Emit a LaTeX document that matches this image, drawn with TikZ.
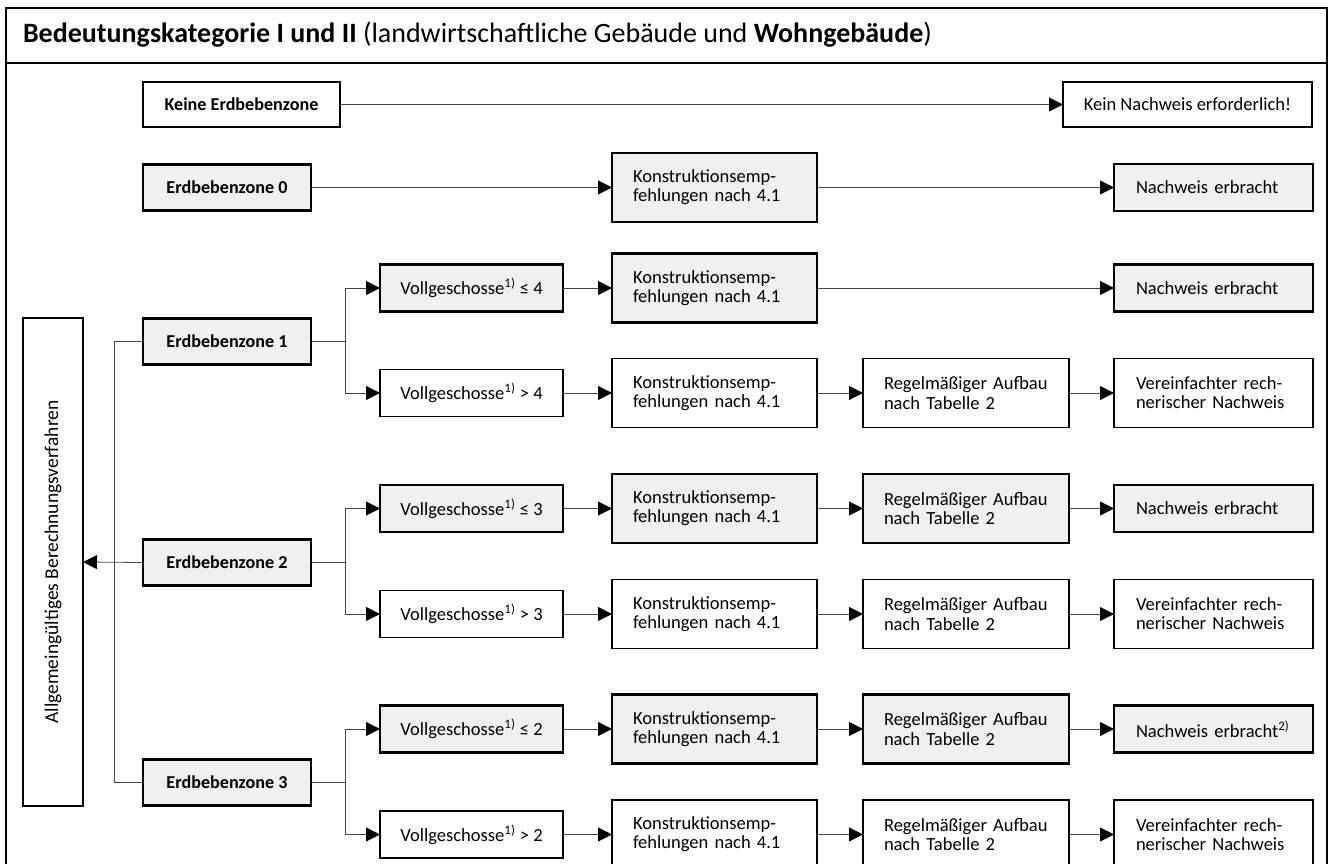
\documentclass[tikz,border=0pt]{standalone}
\usepackage{fontspec}
\setmainfont{Carlito}
\usetikzlibrary{arrows.meta}
\definecolor{boxgrey}{RGB}{240,240,240}
\definecolor{linegrey}{RGB}{70,70,70}
\newcommand{\kon}{\mbox{Konstruktionsemp-}\\\mbox{fehlungen nach 4.1}}
\newcommand{\reg}{\mbox{Regelmäßiger Aufbau}\\\mbox{nach Tabelle 2}}
\newcommand{\ver}{\mbox{Vereinfachter rech-}\\\mbox{nerischer Nachweis}}
\begin{document}
\begin{tikzpicture}[x=0.75pt,y=-0.75pt,
  every node/.style={font=\fontsize{13.9}{14.4}\selectfont, inner sep=0pt, outer sep=0pt},
  basebox/.style={draw=black, rectangle, anchor=center},
  greybox/.style={basebox, fill=boxgrey, line width=1.7pt},
  whitebox/.style={basebox, fill=white, line width=0.9pt},
  ezone/.style={minimum width=126pt, minimum height=34.5pt, font=\fontsize{13.6}{14.4}\selectfont\bfseries, align=center},
  vbox/.style={minimum width=137.25pt, minimum height=35.25pt, align=center},
  kbox/.style={minimum width=153.75pt, minimum height=51.75pt, inner xsep=15.75pt, text width=122.25pt, align=left},
  rbox/.style={minimum width=154.5pt, minimum height=51.75pt, inner xsep=15.75pt, text width=123pt, align=left},
  nbox/.style={minimum width=149.25pt, minimum height=35.25pt, inner xsep=16.5pt, text width=116.25pt, align=left},
  wbox/.style={minimum width=149.25pt, minimum height=51.75pt, inner xsep=16.5pt, text width=116.25pt, align=left},
  conn/.style={draw=linegrey, line width=0.6pt},
  arr/.style={conn, -{Triangle[length=10.5pt,width=10.5pt,fill=black,color=black]}},
]
\useasboundingbox (0,0) rectangle (1332,864);
\clip (0,0) rectangle (1332,864);

% frame
\draw[line width=1.8pt] (6,880) -- (6,8) -- (1327,8) -- (1327,880);
\draw[line width=1.7pt] (6,63) -- (1327,63);
\node[anchor=base west, font=\fontsize{21}{24}\selectfont] (title) at (23,42)
  {\textbf{Bedeutungskategorie I und II} (landwirtschaftliche Gebäude und \textbf{Wohngebäude})};

% row: keine
\node[basebox, fill=white, line width=1.2pt, minimum width=147.75pt, minimum height=33.75pt, font=\fontsize{13.6}{14.4}\selectfont\bfseries] (keine) at (241.5,104.5) {Keine Erdbebenzone};
\node[whitebox, minimum width=186.75pt, minimum height=33.75pt] (keinN) at (1187.5,104.5) {Kein Nachweis erforderlich!};

% row 0
\node[greybox, ezone] (E0) at (227,187.5) {Erdbebenzone 0};
\node[greybox, kbox] (K0) at (714.5,187.5) {\kon};
\node[greybox, nbox] (N0) at (1213.5,187.5) {\mbox{Nachweis erbracht}};

% zone 1
\node[greybox, ezone] (E1) at (227,341.5) {Erdbebenzone 1};
\node[greybox, vbox] (V1a) at (471.5,288) {Vollgeschosse\textsuperscript{1)} ≤ 4};
\node[greybox, kbox] (K1a) at (714.5,288) {\kon};
\node[greybox, nbox] (N1a) at (1213.5,288) {\mbox{Nachweis erbracht}};
\node[whitebox, vbox] (V1b) at (471.5,393) {Vollgeschosse\textsuperscript{1)} > 4};
\node[whitebox, kbox] (K1b) at (714.5,393) {\kon};
\node[whitebox, rbox] (R1b) at (966,393) {\reg};
\node[whitebox, wbox] (W1b) at (1213.5,393) {\ver};

% zone 2
\node[greybox, ezone] (E2) at (227,562.5) {Erdbebenzone 2};
\node[greybox, vbox] (V2a) at (471.5,508.5) {Vollgeschosse\textsuperscript{1)} ≤ 3};
\node[greybox, kbox] (K2a) at (714.5,508.5) {\kon};
\node[greybox, rbox] (R2a) at (966,508.5) {\reg};
\node[greybox, nbox] (N2a) at (1213.5,508.5) {\mbox{Nachweis erbracht}};
\node[whitebox, vbox] (V2b) at (471.5,614) {Vollgeschosse\textsuperscript{1)} > 3};
\node[whitebox, kbox] (K2b) at (714.5,614) {\kon};
\node[whitebox, rbox] (R2b) at (966,614) {\reg};
\node[whitebox, wbox] (W2b) at (1213.5,614) {\ver};

% zone 3
\node[greybox, ezone] (E3) at (227,782.5) {Erdbebenzone 3};
\node[greybox, vbox] (V3a) at (471.5,729) {Vollgeschosse\textsuperscript{1)} ≤ 2};
\node[greybox, kbox] (K3a) at (714.5,729) {\kon};
\node[greybox, rbox] (R3a) at (966,729) {\reg};
\node[greybox, nbox] (N3a) at (1213.5,729) {\mbox{Nachweis erbracht\textsuperscript{2)}}};
\node[whitebox, vbox] (V3b) at (471.5,834.5) {Vollgeschosse\textsuperscript{1)} > 2};
\node[whitebox, kbox] (K3b) at (714.5,834.5) {\kon};
\node[whitebox, rbox] (R3b) at (966,834.5) {\reg};
\node[whitebox, wbox] (W3b) at (1213.5,834.5) {\ver};

% left box
\node[basebox, fill=white, line width=1.1pt, rotate=90, minimum width=366pt, minimum height=45pt, font=\fontsize{14.6}{16}\selectfont] (A) at (53,562) {Allgemeingültiges Berechnungsverfahren};

% branch coordinates
\coordinate (b1) at (345,341.5);
\coordinate (b2) at (345,562.5);
\coordinate (b3) at (345,782.5);
\coordinate (lt) at (114,341.5);
\coordinate (lb) at (114,782.5);

% connectors
\draw[arr] (keine.east) -- (keinN.west);
\draw[arr] (E0.east) -- (K0.west);
\draw[arr] (K0.east) -- (N0.west);

\draw[conn] (E1.east) -- (b1);
\draw[arr] (b1) |- (V1a.west);
\draw[arr] (b1) |- (V1b.west);
\draw[arr] (V1a.east) -- (K1a.west);
\draw[arr] (K1a.east) -- (N1a.west);
\draw[arr] (V1b.east) -- (K1b.west);
\draw[arr] (K1b.east) -- (R1b.west);
\draw[arr] (R1b.east) -- (W1b.west);

\draw[conn] (E2.east) -- (b2);
\draw[arr] (b2) |- (V2a.west);
\draw[arr] (b2) |- (V2b.west);
\draw[arr] (V2a.east) -- (K2a.west);
\draw[arr] (K2a.east) -- (R2a.west);
\draw[arr] (R2a.east) -- (N2a.west);
\draw[arr] (V2b.east) -- (K2b.west);
\draw[arr] (K2b.east) -- (R2b.west);
\draw[arr] (R2b.east) -- (W2b.west);

\draw[conn] (E3.east) -- (b3);
\draw[arr] (b3) |- (V3a.west);
\draw[arr] (b3) |- (V3b.west);
\draw[arr] (V3a.east) -- (K3a.west);
\draw[arr] (K3a.east) -- (R3a.west);
\draw[arr] (R3a.east) -- (N3a.west);
\draw[arr] (V3b.east) -- (K3b.west);
\draw[arr] (K3b.east) -- (R3b.west);
\draw[arr] (R3b.east) -- (W3b.west);

\draw[conn] (E1.west) -- (lt) -- (lb) -- (E3.west);
\draw[arr] (E2.west) -- (A.south);
\end{tikzpicture}
\end{document}
